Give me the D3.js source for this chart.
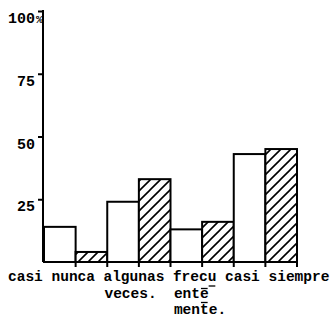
<!DOCTYPE html>
<html><head><meta charset="utf-8">
<script src="https://cdn.jsdelivr.net/npm/d3@7"></script>
<style>body{margin:0;background:#fff}svg{display:block}</style>
</head><body>
<script>
const categories = ["casi nunca", "algunas", "frecu", "casi siempre"];
const labelLine2 = ["", "veces.", "ente", ""];
const labelLine3 = ["", "", "mente.", ""];
const seriesNames = ["blanco", "rayado"];
const valuesWhite = [14, 24, 13, 43];
const valuesHatched = [4, 33, 16, 45];
const yTicks = [25, 50, 75, 100];
const yTickLabels = ["25", "50", "75", "100"];

const W = 332, H = 320;
const svg = d3.select("body").append("svg").attr("width", W).attr("height", H);
const font = "'Liberation Mono','Courier New',monospace";

const defs = svg.append("defs");
const pat = defs.append("pattern").attr("id", "hatch").attr("patternUnits", "userSpaceOnUse")
  .attr("width", 10).attr("height", 10);
pat.append("rect").attr("width", 10).attr("height", 10).attr("fill", "#fff");
pat.append("path").attr("d", "M-2,2 l4,-4 M0,10 l10,-10 M8,12 l4,-4")
  .attr("stroke", "#000").attr("stroke-width", 1.6);

const x = d3.scaleBand().domain(categories).range([44, 297]).padding(0);
const xs = d3.scaleBand().domain(seriesNames).range([0, x.bandwidth()]).padding(0);
const y = d3.scaleLinear().domain([0, 100]).range([262, 11]);

const data = categories.map((c, i) => ({c, vals: [valuesWhite[i], valuesHatched[i]]}));

const g = svg.append("g");
data.forEach(d => {
  d.vals.forEach((v, j) => {
    g.append("rect")
      .attr("x", x(d.c) + xs(seriesNames[j]))
      .attr("y", y(v))
      .attr("width", xs.bandwidth())
      .attr("height", y(0) - y(v))
      .attr("fill", j === 0 ? "#fff" : "url(#hatch)")
      .attr("stroke", "#000").attr("stroke-width", 2);
  });
});

// y axis
const yAxis = d3.axisLeft(y).tickValues(yTicks).tickSize(5).tickFormat("");
const ya = svg.append("g").attr("transform", "translate(43,0)").call(yAxis);
ya.select(".domain").remove();
ya.selectAll(".tick line").attr("stroke", "#000").attr("stroke-width", 2);
svg.append("line").attr("x1", 43).attr("x2", 43).attr("y1", y(100) - 1).attr("y2", y(0))
  .attr("stroke", "#000").attr("stroke-width", 2);
yTicks.forEach((t, i) => {
  svg.append("text").attr("x", 35).attr("y", y(t) + 12)
    .attr("text-anchor", "end").attr("font-family", font).attr("font-weight", "bold")
    .attr("font-size", 15).attr("fill", "#000").text(yTickLabels[i]);
});
svg.append("text").attr("x", 36).attr("y", y(100) + 12).attr("font-family", font)
  .attr("font-size", 11).attr("font-weight", "bold").attr("fill", "#000").text("%");

// x axis baseline with ticks at bar edges
svg.append("line").attr("x1", 43).attr("x2", 298).attr("y1", y(0)).attr("y2", y(0))
  .attr("stroke", "#000").attr("stroke-width", 2.2);
const edges = [];
categories.forEach(c => seriesNames.forEach(s => edges.push(x(c) + xs(s) + xs.bandwidth())));
edges.forEach(e => svg.append("line").attr("x1", e).attr("x2", e).attr("y1", y(0)).attr("y2", y(0) + 5)
  .attr("stroke", "#000").attr("stroke-width", 2));

// category labels (typewriter style, left aligned per column)
const cw = 8.68;
const labelX = [8, 8 + 11 * cw, 8 + 19 * cw, 8 + 25 * cw];
const txt = (s, xx, yy) => svg.append("text").attr("x", xx).attr("y", yy)
  .attr("font-family", font).attr("font-weight", "bold").attr("font-size", 14.5)
  .attr("fill", "#000").text(s);
categories.forEach((c, i) => {
  txt(c, labelX[i], 281);
  if (labelLine2[i]) txt(labelLine2[i], labelX[i] + 1, 298);
  if (labelLine3[i]) txt(labelLine3[i], labelX[i] + 1, 314);
});
// hand marks on the broken word
const fx = labelX[2];
const mark = (x1, x2, yy) => svg.append("line").attr("x1", x1).attr("x2", x2).attr("y1", yy).attr("y2", yy)
  .attr("stroke", "#000").attr("stroke-width", 1.3);
mark(fx + 4 * cw + 1, fx + 5 * cw - 1, 286);
mark(fx + 1 + 3 * cw + 1, fx + 1 + 4 * cw - 1, 288.5);
mark(fx + 1 + 3 * cw + 1, fx + 1 + 4 * cw - 1, 302.5);
</script>
</body></html>
